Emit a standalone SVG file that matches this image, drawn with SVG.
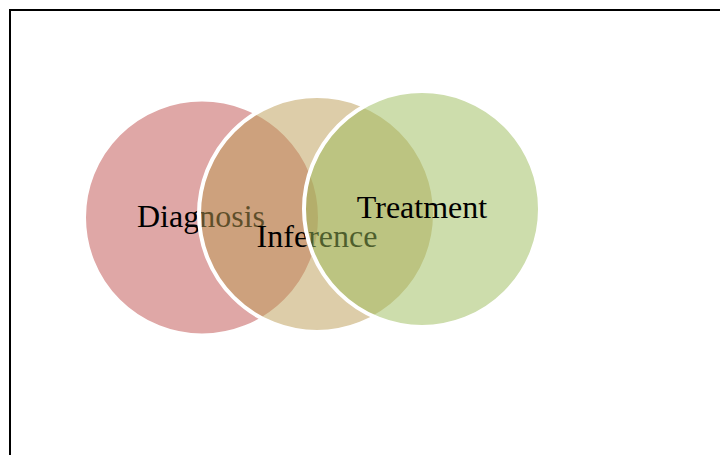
<svg xmlns="http://www.w3.org/2000/svg" width="720" height="455" viewBox="0 0 720 455">
  <style>
    .ring { stroke: #ffffff; stroke-width: 4; }
    .label { font-family: "Liberation Serif", "Times New Roman", serif; font-size: 32px; fill: #000000; text-anchor: middle; }
  </style>
  <rect width="720" height="455" fill="#ffffff"/>
  <!-- frame -->
  <path d="M10 455 V10 H720" fill="none" stroke="#000000" stroke-width="2"/>
  <g id="diagnosis">
    <circle class="ring" cx="202" cy="217.5" r="118" fill="#c0504d" fill-opacity="0.5"/>
    <text class="label" x="201" y="227">Diagnosis</text>
  </g>
  <g id="inference">
    <circle class="ring" cx="317" cy="214" r="118" fill="#bb9b53" fill-opacity="0.5"/>
    <text class="label" x="317" y="247">Inference</text>
  </g>
  <g id="treatment">
    <circle class="ring" cx="422" cy="209" r="118" fill="#9bbb59" fill-opacity="0.5"/>
    <text class="label" x="422" y="218">Treatment</text>
  </g>
  <g id="connectors"/>
</svg>
